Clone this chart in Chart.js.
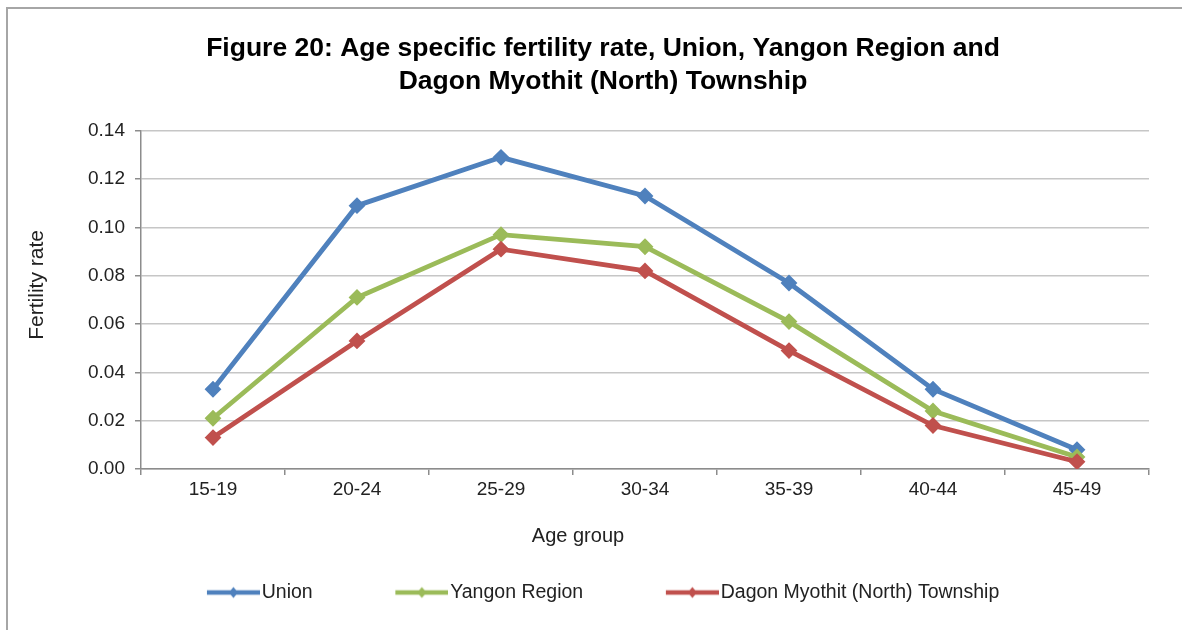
<!DOCTYPE html>
<html>
<head>
<meta charset="utf-8">
<script src="https://cdn.jsdelivr.net/npm/chart.js@4.4.1/dist/chart.umd.min.js"></script>
<style>
html,body{margin:0;padding:0;background:#fff;}
#wrap{position:relative;width:1182px;height:630px;overflow:hidden;}
#frame{position:absolute;left:6px;top:7px;width:1200px;height:700px;border-top:2px solid #a6a6a6;border-left:2px solid #a6a6a6;pointer-events:none;}
</style>
</head>
<body>
<div id="wrap"><canvas id="c" width="1182" height="630" style="width:1182px;height:630px"></canvas><div id="frame"></div></div>
<script>
const chartTitle = ['Figure 20: Age specific fertility rate, Union, Yangon Region and', 'Dagon Myothit (North) Township'];
const xAxisTitle = 'Age group';
const yAxisTitle = 'Fertility rate';
const categories = ['15-19', '20-24', '25-29', '30-34', '35-39', '40-44', '45-49'];
const unionRates = [0.033, 0.109, 0.129, 0.113, 0.077, 0.033, 0.008];
const yangonRates = [0.021, 0.071, 0.097, 0.092, 0.061, 0.024, 0.005];
const dagonRates = [0.013, 0.053, 0.091, 0.082, 0.049, 0.018, 0.003];
const yTickValues = [0, 0.02, 0.04, 0.06, 0.08, 0.10, 0.12, 0.14];
const seriesNames = ['Union', 'Yangon Region', 'Dagon Myothit (North) Township'];
const seriesColors = ['#4F81BD', '#9BBB59', '#C0504D'];

const FONT = '"Liberation Sans", Arial, sans-serif';
Chart.defaults.font.family = FONT;

function legendIcon(color) {
  const c = document.createElement('canvas');
  c.width = 61; c.height = 14;
  const g = c.getContext('2d');
  g.strokeStyle = color; g.lineWidth = 4.5;
  g.beginPath(); g.moveTo(8, 7); g.lineTo(61, 7); g.stroke();
  g.fillStyle = color;
  const cx = 34.5;
  g.beginPath(); g.moveTo(cx, 1.5); g.lineTo(cx + 4.5, 7); g.lineTo(cx, 12.5); g.lineTo(cx - 4.5, 7); g.closePath(); g.fill();
  return c;
}
const icons = seriesColors.map(legendIcon);

const axisTitlePlugin = {
  id: 'axisTitlePlugin',
  afterLayout(chart) {
    const xs = chart.scales.x;
    xs.bottom = xs.top + 45;
  },
  afterDraw(chart) {
    const {ctx, chartArea} = chart;
    ctx.save();
    ctx.fillStyle = '#222';
    ctx.textAlign = 'center';
    ctx.textBaseline = 'middle';
    ctx.font = '20px ' + FONT;
    ctx.fillText(xAxisTitle, (chartArea.left + chartArea.right) / 2 - 67, chartArea.bottom + 67);
    ctx.font = '21px ' + FONT;
    ctx.translate(37, (chartArea.top + chartArea.bottom) / 2 - 15);
    ctx.rotate(-Math.PI / 2);
    ctx.fillText(yAxisTitle, 0, 0);
    ctx.restore();
  }
};

const seriesData = [unionRates, yangonRates, dagonRates];
const datasets = seriesNames.map((name, i) => ({
  label: name,
  data: seriesData[i],
  borderColor: seriesColors[i],
  backgroundColor: seriesColors[i],
  borderWidth: 4.8,
  pointStyle: 'rectRot',
  pointRadius: 7,
  pointBorderWidth: 2,
  pointBackgroundColor: seriesColors[i],
  pointBorderColor: seriesColors[i],
  tension: 0,
  fill: false,
  order: 3 - i
}));

new Chart(document.getElementById('c'), {
  type: 'line',
  data: { labels: categories, datasets },
  plugins: [axisTitlePlugin],
  options: {
    responsive: false,
    animation: false,
    layout: { padding: { left: 57, right: 33, top: 0, bottom: 17.75 } },
    plugins: {
      title: {
        display: true, text: chartTitle, color: '#000',
        font: { size: 26.5, weight: 'bold', lineHeight: 1.25 },
        padding: { top: 32, bottom: 32.5 }
      },
      legend: {
        position: 'bottom',
        labels: {
          usePointStyle: true,
          pointStyleWidth: 45.25,
          font: { size: 19.5 },
          color: '#222',
          padding: 82.5,
          generateLabels(chart) {
            const items = Chart.defaults.plugins.legend.labels.generateLabels(chart);
            items.sort((a, b) => a.datasetIndex - b.datasetIndex);
            items.forEach(it => { it.pointStyle = icons[it.datasetIndex]; });
            return items;
          }
        }
      },
      tooltip: { enabled: false }
    },
    scales: {
      x: {
        type: 'category',
        offset: true,
        grid: { offset: true, drawOnChartArea: false, drawTicks: true, tickLength: 6, color: '#8c8c8c', lineWidth: 1.5 },
        border: { color: '#8c8c8c', width: 1.5 },
        ticks: { font: { size: 19 }, color: '#222', padding: 3, maxRotation: 0, autoSkip: false },
        afterFit(s) { s.height = 31.25; }
      },
      y: {
        min: 0, max: 0.14,
        afterBuildTicks(s) { s.ticks = yTickValues.map(v => ({ value: v })); },
        ticks: { callback: v => Number(v).toFixed(2), font: { size: 19 }, color: '#222', padding: 10 },
        grid: { color: '#c6c6c6', lineWidth: 1.5, tickLength: 6, tickColor: '#8c8c8c' },
        border: { color: '#8c8c8c', width: 1.5 },
        afterFit(s) { s.width = 84; }
      }
    }
  }
});
</script>
</body>
</html>
